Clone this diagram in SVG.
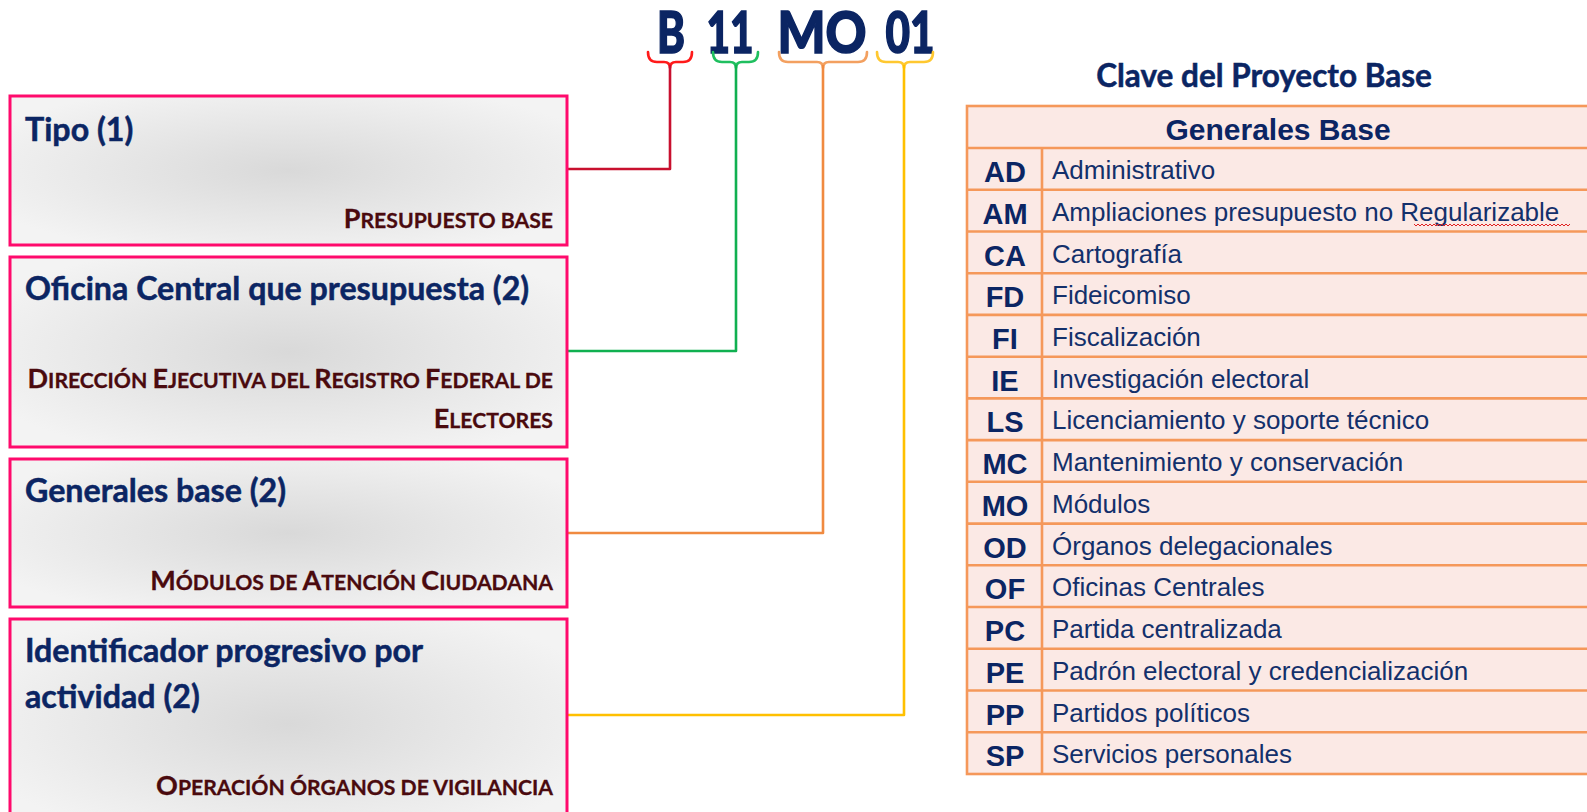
<svg xmlns="http://www.w3.org/2000/svg" width="1587" height="812" viewBox="0 0 1587 812">
<defs>
<radialGradient id="bg" cx="0.5" cy="0.5" r="0.6">
<stop offset="0" stop-color="#d9d9d9"/>
<stop offset="1" stop-color="#f3f3f3"/>
</radialGradient>
</defs>
<style>
.box{fill:url(#bg);stroke:#ff0a6c;stroke-width:3}
.ttl{font-family:Lato,"Open Sans",sans-serif;font-weight:bold;font-size:32.2px;fill:#0b2563;stroke:#0b2563;stroke-width:0.5}
.sub{font-family:Lato,"Open Sans",sans-serif;font-weight:bold;font-size:21.2px;fill:#4a0a0e;stroke:#4a0a0e;stroke-width:0.3}
.L{font-size:27px}
.code{font-family:Lato,sans-serif;font-weight:900;font-size:57px;fill:#0b2563;stroke:#0b2563;stroke-width:1.6}
.cl{fill:none;stroke-width:2.6;stroke-linejoin:round;stroke-linecap:round}
.tbl{fill:#fbe9e5;stroke:#f5985a;stroke-width:2.6}
.tl{stroke:#f5985a;stroke-width:2.6}
.k{font-family:"Liberation Sans",Arial,sans-serif;font-weight:bold;font-size:29px;fill:#0b2563;text-anchor:middle}
.d{font-family:"Liberation Sans",Arial,sans-serif;font-size:26px;fill:#13306b}
.hd{font-family:"Liberation Sans",Arial,sans-serif;font-weight:bold;font-size:30px;fill:#0b2563;text-anchor:middle}
.cap{font-family:Lato,"Open Sans",sans-serif;font-weight:bold;font-size:31.5px;fill:#0b2563;stroke:#0b2563;stroke-width:0.5;text-anchor:middle}
</style>

<g id="code">
<text class="code" x="671" y="53" text-anchor="middle" textLength="28" lengthAdjust="spacingAndGlyphs">B</text>
<text class="code" x="730" y="53" text-anchor="middle" textLength="47" lengthAdjust="spacingAndGlyphs">11</text>
<text class="code" x="822" y="53" text-anchor="middle" textLength="89" lengthAdjust="spacingAndGlyphs">MO</text>
<text class="code" x="910" y="53" text-anchor="middle" textLength="49" lengthAdjust="spacingAndGlyphs">01</text>
</g>

<g id="connectors">
<path class="cl" stroke="#ff1a1a" d="M648,52 Q648,62 657,62 H664 Q670,62 670,68 M692,52 Q692,62 683,62 H676 Q670,62 670,68"/>
<path class="cl" stroke="#c8102e" d="M567,169 H670 V66"/>
<path class="cl" stroke="#1fbf5f" d="M713,52 Q713,62 722,62 H730 Q736,62 736,68 M758,52 Q758,62 749,62 H742 Q736,62 736,68"/>
<path class="cl" stroke="#10b050" d="M567,351 H736 V66"/>
<path class="cl" stroke="#f3a060" d="M779,52 Q779,62 788,62 H817 Q823,62 823,68 M867,52 Q867,62 858,62 H829 Q823,62 823,68"/>
<path class="cl" stroke="#f08a40" d="M567,533 H823 V66"/>
<path class="cl" stroke="#ffc830" d="M877,52 Q877,62 886,62 H898 Q904,62 904,68 M933,52 Q933,62 924,62 H910 Q904,62 904,68"/>
<path class="cl" stroke="#ffc000" d="M567,715 H904 V66"/>
</g>

<g id="n1">
<rect class="box" x="10" y="96" width="557" height="149"/>
<text class="ttl" x="25" y="141">Tipo (1)</text>
<text class="sub" x="553" y="228" text-anchor="end"><tspan class="L">P</tspan>RESUPUESTO BASE</text>
</g>

<g id="n2">
<rect class="box" x="10" y="257" width="557" height="190"/>
<text class="ttl" x="25" y="300">Oficina Central que presupuesta (2)</text>
<text class="sub" x="553" y="388" text-anchor="end"><tspan class="L">D</tspan>IRECCIÓN <tspan class="L">E</tspan>JECUTIVA DEL <tspan class="L">R</tspan>EGISTRO <tspan class="L">F</tspan>EDERAL DE</text>
<text class="sub" x="553" y="428" text-anchor="end"><tspan class="L">E</tspan>LECTORES</text>
</g>

<g id="n3">
<rect class="box" x="10" y="459" width="557" height="148"/>
<text class="ttl" x="25" y="502">Generales base (2)</text>
<text class="sub" x="553" y="590" text-anchor="end"><tspan class="L">M</tspan>ÓDULOS DE <tspan class="L">A</tspan>TENCIÓN <tspan class="L">C</tspan>IUDADANA</text>
</g>

<g id="n4">
<rect class="box" x="10" y="619" width="557" height="210"/>
<text class="ttl" x="25" y="662">Identificador progresivo por</text>
<text class="ttl" x="25" y="708">actividad (2)</text>
<text class="sub" x="553" y="795" text-anchor="end"><tspan class="L">O</tspan>PERACIÓN ÓRGANOS DE VIGILANCIA</text>
</g>

<g id="table">
<text class="cap" x="1264" y="87">Clave del Proyecto Base</text>
<rect class="tbl" x="967" y="106" width="640" height="668"/>
<line class="tl" x1="967" y1="148" x2="1600" y2="148"/>
<line class="tl" x1="1042" y1="148" x2="1042" y2="774"/>
<line class="tl" x1="967" y1="189.7" x2="1600" y2="189.7"/>
<line class="tl" x1="967" y1="231.5" x2="1600" y2="231.5"/>
<line class="tl" x1="967" y1="273.2" x2="1600" y2="273.2"/>
<line class="tl" x1="967" y1="314.9" x2="1600" y2="314.9"/>
<line class="tl" x1="967" y1="356.7" x2="1600" y2="356.7"/>
<line class="tl" x1="967" y1="398.4" x2="1600" y2="398.4"/>
<line class="tl" x1="967" y1="440.1" x2="1600" y2="440.1"/>
<line class="tl" x1="967" y1="481.8" x2="1600" y2="481.8"/>
<line class="tl" x1="967" y1="523.6" x2="1600" y2="523.6"/>
<line class="tl" x1="967" y1="565.3" x2="1600" y2="565.3"/>
<line class="tl" x1="967" y1="607" x2="1600" y2="607"/>
<line class="tl" x1="967" y1="648.8" x2="1600" y2="648.8"/>
<line class="tl" x1="967" y1="690.5" x2="1600" y2="690.5"/>
<line class="tl" x1="967" y1="732.2" x2="1600" y2="732.2"/>
<text class="hd" x="1278" y="140">Generales Base</text>
<text class="k" x="1005" y="182">AD</text><text class="d" x="1052" y="179">Administrativo</text>
<text class="k" x="1005" y="223.7">AM</text><text class="d" x="1052" y="220.7">Ampliaciones presupuesto no Regularizable</text>
<path d="M1414,224 l2,2 2,-2 2,2 2,-2 2,2 2,-2 2,2 2,-2 2,2 2,-2 2,2 2,-2 2,2 2,-2 2,2 2,-2 2,2 2,-2 2,2 2,-2 2,2 2,-2 2,2 2,-2 2,2 2,-2 2,2 2,-2 2,2 2,-2 2,2 2,-2 2,2 2,-2 2,2 2,-2 2,2 2,-2 2,2 2,-2 2,2 2,-2 2,2 2,-2 2,2 2,-2 2,2 2,-2 2,2 2,-2 2,2 2,-2 2,2 2,-2 2,2 2,-2 2,2 2,-2 2,2 2,-2 2,2 2,-2 2,2 2,-2 2,2 2,-2 2,2 2,-2 2,2 2,-2 2,2 2,-2 2,2 2,-2 2,2 2,-2 2,2 2,-2" fill="none" stroke="#e02020" stroke-width="1"/>
<text class="k" x="1005" y="265.5">CA</text><text class="d" x="1052" y="262.5">Cartografía</text>
<text class="k" x="1005" y="307.2">FD</text><text class="d" x="1052" y="304.2">Fideicomiso</text>
<text class="k" x="1005" y="348.9">FI</text><text class="d" x="1052" y="345.9">Fiscalización</text>
<text class="k" x="1005" y="390.7">IE</text><text class="d" x="1052" y="387.7">Investigación electoral</text>
<text class="k" x="1005" y="432.4">LS</text><text class="d" x="1052" y="429.4">Licenciamiento y soporte técnico</text>
<text class="k" x="1005" y="474.1">MC</text><text class="d" x="1052" y="471.1">Mantenimiento y conservación</text>
<text class="k" x="1005" y="515.8">MO</text><text class="d" x="1052" y="512.8">Módulos</text>
<text class="k" x="1005" y="557.6">OD</text><text class="d" x="1052" y="554.6">Órganos delegacionales</text>
<text class="k" x="1005" y="599.3">OF</text><text class="d" x="1052" y="596.3">Oficinas Centrales</text>
<text class="k" x="1005" y="641">PC</text><text class="d" x="1052" y="638">Partida centralizada</text>
<text class="k" x="1005" y="682.8">PE</text><text class="d" x="1052" y="679.8">Padrón electoral y credencialización</text>
<text class="k" x="1005" y="724.5">PP</text><text class="d" x="1052" y="721.5">Partidos políticos</text>
<text class="k" x="1005" y="766.2">SP</text><text class="d" x="1052" y="763.2">Servicios personales</text>
</g>
</svg>
